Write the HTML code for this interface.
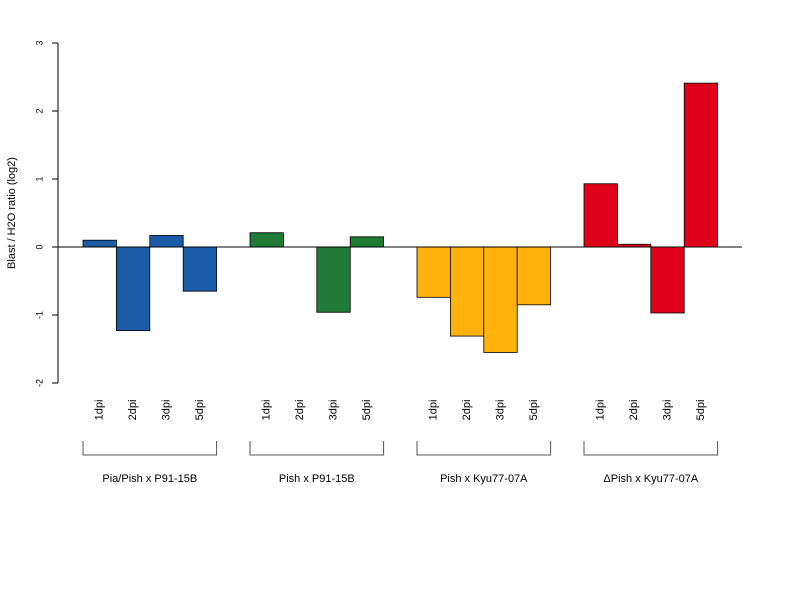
<!DOCTYPE html>
<html><head><meta charset="utf-8"><style>body{margin:0;background:#fff}svg{display:block;font-family:"Liberation Sans",Arial,sans-serif}</style></head>
<body>
<svg id="chart" width="800" height="600" xmlns="http://www.w3.org/2000/svg"></svg>
<script>
const groups = ["Pia/Pish x P91-15B", "Pish x P91-15B", "Pish x Kyu77-07A", "\u0394Pish x Kyu77-07A"];
const timepoints = ["1dpi", "2dpi", "3dpi", "5dpi"];
const values = [
  [0.10, -1.23, 0.17, -0.65],
  [0.21, 0.00, -0.96, 0.15],
  [-0.74, -1.31, -1.55, -0.85],
  [0.93, 0.04, -0.97, 2.41]
];
const yTicks = [-2, -1, 0, 1, 2, 3];
const colors = ["#1a5ca8", "#217a35", "#ffb20b", "#df0019"];

const svg = document.getElementById('chart');
const NS = "http://www.w3.org/2000/svg";
function mk(tag, attrs, parent, text) {
  const e = document.createElementNS(NS, tag);
  for (const k in attrs) e.setAttribute(k, attrs[k]);
  if (text !== undefined) e.textContent = text;
  (parent || svg).appendChild(e);
  return e;
}
const y = v => 247 - v * 68;
const barW = 33.4, x0 = 83;
const xBar = (g, i) => x0 + (g * 5 + i) * barW;

// y axis
const ax = mk('g', {});


mk('line', {x1: 58, x2: 58, y1: y(-2), y2: y(3), stroke: '#000', 'stroke-width': 1}, ax);
yTicks.forEach(t => {
  mk('line', {x1: 52, x2: 58, y1: y(t), y2: y(t), stroke: '#000'}, ax);
  const tl = mk('text', {x: 40, y: y(t), 'font-size': 9, 'text-anchor': 'middle', transform: `rotate(-90 40 ${y(t)})`, 'dominant-baseline': 'middle'}, ax, String(t));
  
  
});
const yt = mk('text', {x: 12, y: 213, 'font-size': 11, 'text-anchor': 'middle', transform: 'rotate(-90 12 213)', 'dominant-baseline': 'middle'}, svg, 'Blast / H2O ratio (log2)');



// bars
values.forEach((arr, g) => {
  arr.forEach((v, i) => {
    const x = xBar(g, i);
    const r = mk('rect', {x: x, y: Math.min(y(v), y(0)), width: barW, height: Math.abs(y(v) - y(0)), fill: colors[g], stroke: '#000', 'stroke-width': 0.8});
    
    
    const cx = x + barW / 2;
    const tl = mk('text', {x: cx, y: 410, 'font-size': 11, 'text-anchor': 'middle', 'dominant-baseline': 'middle', transform: `rotate(-90 ${cx} 410)`}, svg, timepoints[i]);
    
    
  });
  const xs = xBar(g, 0), xe = xBar(g, 4);
  const br = mk('path', {d: `M${xs} 441 V455 H${xe} V441`, fill: 'none', stroke: '#555', 'stroke-width': 1});
  
  
  const gl = mk('text', {x: (xs + xe) / 2, y: 482, 'font-size': 11, 'text-anchor': 'middle'}, svg, groups[g]);
  
  
});
const zl = mk('line', {x1: 58, x2: 742, y1: y(0), y2: y(0), stroke: '#000', 'stroke-width': 1});


</script>
</body></html>
